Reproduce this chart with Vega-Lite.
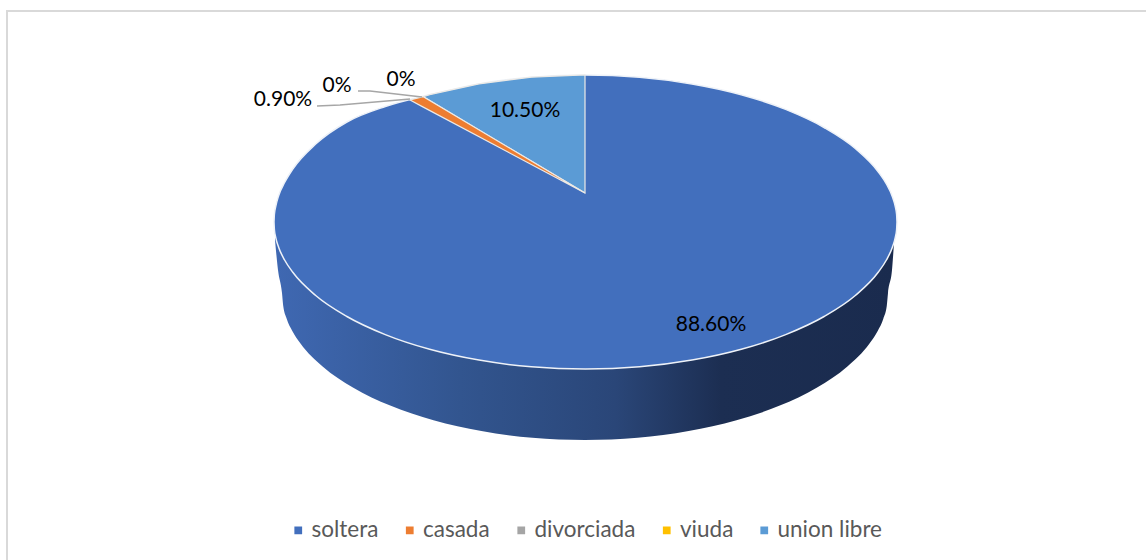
{"$schema":"https://vega.github.io/schema/vega-lite/v6.json","width":1146,"height":560,"padding":0,"autosize":{"type":"none"},"background":"white","config":{"view":{"stroke":null}},
"datasets":{
"wall":[{"x":-310,"y":-29,"y2":-47},{"x":-307,"y":-29,"y2":-77},{"x":-303,"y":-29,"y2":-100},{"x":-301.8,"y":-29,"y2":-112.8},{"x":-298.4,"y":-29,"y2":-125.5},{"x":-292.7,"y":-29,"y2":-138},{"x":-284.7,"y":-29,"y2":-150.3},{"x":-262.4,"y":-29,"y2":-173.5},{"x":-232.1,"y":-29,"y2":-194.5},{"x":-194.8,"y":-29,"y2":-212.6},{"x":-151.5,"y":-29,"y2":-227.3},{"x":-103.6,"y":-29,"y2":-238.1},{"x":-52.6,"y":-29,"y2":-244.8},{"x":0,"y":-29,"y2":-247},{"x":52.6,"y":-29,"y2":-244.8},{"x":103.6,"y":-29,"y2":-238.1},{"x":151.5,"y":-29,"y2":-227.3},{"x":194.8,"y":-29,"y2":-212.6},{"x":232.1,"y":-29,"y2":-194.5},{"x":262.4,"y":-29,"y2":-173.5},{"x":284.7,"y":-29,"y2":-150.3},{"x":292.7,"y":-29,"y2":-138},{"x":298.4,"y":-29,"y2":-125.5},{"x":301.8,"y":-29,"y2":-112.8},{"x":303,"y":-29,"y2":-100},{"x":307,"y":-29,"y2":-77},{"x":309,"y":-29,"y2":-50}],
"top":[{"categoria":"soltera","x":-311,"y":-29,"y2":-29},{"categoria":"soltera","x":-310.6,"y":-21.3,"y2":-36.7},{"categoria":"soltera","x":-309.3,"y":-13.6,"y2":-44.4},{"categoria":"soltera","x":-306.3,"y":-2.5,"y2":-54.5},{"categoria":"soltera","x":-300.4,"y":10.5,"y2":-67},{"categoria":"soltera","x":-292.2,"y":24,"y2":-79.3},{"categoria":"soltera","x":-269.3,"y":49,"y2":-102.5},{"categoria":"soltera","x":-238.1,"y":71,"y2":-123.5},{"categoria":"soltera","x":-199.7,"y":86.5,"y2":-141.6},{"categoria":"soltera","x":-155.3,"y":98.3,"y2":-156.3},{"categoria":"soltera","x":-106,"y":109.1,"y2":-167.1},{"categoria":"soltera","x":-53.6,"y":115.8,"y2":-173.8},{"categoria":"soltera","x":0.5,"y":118,"y2":-176},{"categoria":"soltera","x":54.6,"y":115.8,"y2":-173.8},{"categoria":"soltera","x":107,"y":109.1,"y2":-167.1},{"categoria":"soltera","x":156.3,"y":98.3,"y2":-156.3},{"categoria":"soltera","x":200.7,"y":83.6,"y2":-141.6},{"categoria":"soltera","x":239.1,"y":65.5,"y2":-123.5},{"categoria":"soltera","x":270.3,"y":44.5,"y2":-102.5},{"categoria":"soltera","x":293.2,"y":21.3,"y2":-79.3},{"categoria":"soltera","x":301.4,"y":9,"y2":-67},{"categoria":"soltera","x":307.3,"y":-3.5,"y2":-54.5},{"categoria":"soltera","x":310.3,"y":-13.6,"y2":-44.4},{"categoria":"soltera","x":311.6,"y":-21.3,"y2":-36.7},{"categoria":"soltera","x":312,"y":-29,"y2":-29}],
"slices":[{"categoria":"union libre","x":-161.7,"y":96.3,"y2":96.3},{"categoria":"union libre","x":-155.3,"y":98.3,"y2":92.5},{"categoria":"union libre","x":-106,"y":109.1,"y2":63.1},{"categoria":"union libre","x":-53.6,"y":115.8,"y2":31.9},{"categoria":"union libre","x":0,"y":118,"y2":0},{"categoria":"casada","x":-175,"y":93,"y2":93},{"categoria":"casada","x":-161.7,"y":96.3,"y2":85.9},{"categoria":"casada","x":0,"y":0,"y2":0}],
"leaders":[{"id":"a","n":1,"x":-268,"y":87},{"id":"a","n":2,"x":-245,"y":88},{"id":"a","n":3,"x":-175,"y":94},{"id":"b","n":1,"x":-227,"y":102},{"id":"b","n":2,"x":-215,"y":102},{"id":"b","n":3,"x":-163,"y":96}],
"labels":[{"label":"88.60%","x":126,"y":-132},{"label":"10.50%","x":-60,"y":82},{"label":"0.90%","x":-302,"y":93},{"label":"0%","x":-248,"y":107},{"label":"0%","x":-184,"y":113}],
"frame":[{"n":1,"x":-578,"y":-367},{"n":2,"x":-578,"y":182},{"n":3,"x":561,"y":182}]
},
"encoding":{"x":{"field":"x","type":"quantitative","scale":{"domain":[-585,561],"nice":false,"zero":false},"axis":null},"y":{"field":"y","type":"quantitative","scale":{"domain":[-367,193],"nice":false,"zero":false},"axis":null}},
"layer":[
{"data":{"name":"frame"},"mark":{"type":"line","stroke":"#d9d9d9","strokeWidth":2},"encoding":{"order":{"field":"n"}}},
{"data":{"name":"wall"},"mark":{"type":"area","interpolate":"monotone","color":{"gradient":"linear","x1":0,"y1":0,"x2":1,"y2":0,"stops":[{"offset":0,"color":"#3f68b2"},{"offset":0.3,"color":"#32558f"},{"offset":0.55,"color":"#2a4678"},{"offset":0.72,"color":"#1c2e52"},{"offset":1,"color":"#1a2b4e"}]}},"encoding":{"y2":{"field":"y2"}}},
{"data":{"name":"top"},"mark":{"type":"area","interpolate":"monotone","stroke":"#eef2f8","strokeWidth":1.5},"encoding":{"y2":{"field":"y2"},"color":{"field":"categoria","type":"nominal","scale":{"domain":["soltera","casada","divorciada","viuda","union libre"],"range":["#426FBD","#ED7D31","#A5A5A5","#FFC000","#5B9BD5"]},"legend":{"title":null,"orient":"none","legendX":287,"legendY":519,"direction":"horizontal","columns":5,"symbolType":"square","symbolSize":60,"symbolStrokeWidth":0,"labelFont":"Lato","labelFontSize":22.5,"labelColor":"#595959","labelOffset":2,"columnPadding":19.5}}}},
{"data":{"name":"slices"},"mark":{"type":"area","stroke":"#eceae6","strokeWidth":1.2},"encoding":{"y2":{"field":"y2"},"color":{"field":"categoria","type":"nominal"},"detail":{"field":"categoria"}}},
{"data":{"name":"leaders"},"mark":{"type":"line","stroke":"#a6a6a6","strokeWidth":1.5},"encoding":{"detail":{"field":"id"},"order":{"field":"n"}}},
{"data":{"name":"labels"},"mark":{"type":"text","font":"Lato","fontSize":21,"color":"#000000","align":"center","baseline":"middle"},"encoding":{"text":{"field":"label"}}}
]}
